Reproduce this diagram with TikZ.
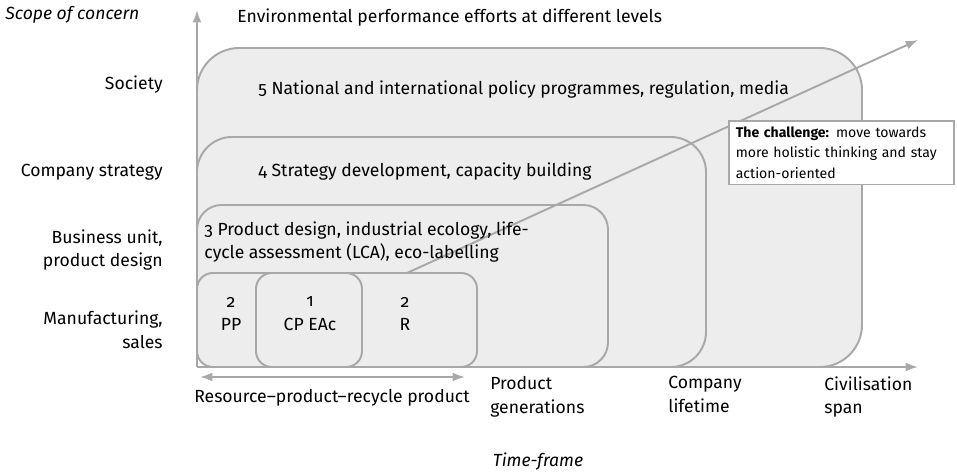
\documentclass[tikz,border=0pt]{standalone}
\usepackage{fontspec}
\setmainfont{Fira Sans}[Numbers=OldStyle]
\usetikzlibrary{arrows.meta}
\definecolor{boxgray}{HTML}{EDEDED}
\definecolor{linegray}{HTML}{A8A8A8}
\begin{document}
\begin{tikzpicture}[x=0.02cm, y=-0.02cm,
  level/.style={draw=linegray, line width=1.1pt, fill=boxgray},
  axis/.style={draw=linegray, line width=1.1pt, -{Latex[length=7pt,width=5pt]}},
  txt/.style={font=\fontsize{10}{13.6}\selectfont, inner sep=0pt},
  small/.style={font=\fontsize{8}{11.6}\selectfont, inner sep=0pt, align=left}]
  \useasboundingbox (0,0) rectangle (957,475);
  % levels
  \draw[level, rounded corners=24pt] (197,48) rectangle (862,367);
  \draw[level, rounded corners=20pt] (197,137) rectangle (706,367);
  \draw[level, rounded corners=14pt] (197,205) rectangle (608,367);
  \draw[level, rounded corners=9pt] (197,273) rectangle (477,367);
  \draw[level, rounded corners=9pt] (256,273) rectangle (362,367);
  % axes
  \coordinate (O) at (197,367);
  \coordinate (Y) at (197,10);
  \coordinate (X) at (918,367);
  \draw[axis] (O) -- (Y);
  \draw[axis] (O) -- (X);
  % challenge
  \coordinate (C0) at (407,273);
  \coordinate (C1) at (918,40);
  \draw[axis] (C0) -- (C1);
  \node[small, draw=linegray, line width=0.9pt, fill=white, anchor=north west,
    inner xsep=4pt, inner ysep=3.5pt, text width=4.22cm] (chal) at (728,120)
    {\textbf{The challenge:} move towards\\more holistic thinking and stay\\action-oriented};
  % scope labels
  \node[txt, anchor=west] (scope) at (5,15) {\itshape Scope of concern};
  \node[txt, anchor=west] (title) at (237,18) {Environmental performance efforts at different levels};
  \node[txt, anchor=east] (soc) at (163,85) {Society};
  \node[txt, anchor=east] (strat) at (163,172) {Company strategy};
  \node[txt, anchor=east, align=right] (bu) at (163,250) {Business unit,\\product design};
  \node[txt, anchor=east, align=right] (man) at (163,330) {Manufacturing,\\sales};
  % level texts
  \node[txt, anchor=west] (l5) at (258,90) {5 National and international policy programmes, regulation, media};
  \node[txt, anchor=west] (l4) at (258,172) {4 Strategy development, capacity building};
  \node[txt, anchor=west, align=left] (l3) at (204,242) {3 Product design, industrial ecology, life-\\cycle assessment (LCA), eco-labelling};
  \node[txt, align=center] (pp) at (231,314) {2\\PP};
  \node[txt, align=center] (cp) at (310,314) {1\\CP EAc};
  \node[txt, align=center] (r) at (405,314) {2\\R};
  % time-frame
  \coordinate (A0) at (200,377);
  \coordinate (A1) at (465,377);
  \draw[axis, {Latex[length=7pt,width=5pt]}-{Latex[length=7pt,width=5pt]}] (A0) -- (A1);
  \node[txt] (rpr) at (332,398) {Resource--product--recycle product};
  \node[txt, anchor=north west, align=left] (pg) at (490,376) {Product\\generations};
  \node[txt, anchor=north west, align=left] (cl) at (668,376) {Company\\lifetime};
  \node[txt, anchor=north west, align=left] (cs) at (824,376) {Civilisation\\span};
  \node[txt] (tf) at (538,462) {\itshape Time-frame};
\end{tikzpicture}
\end{document}
